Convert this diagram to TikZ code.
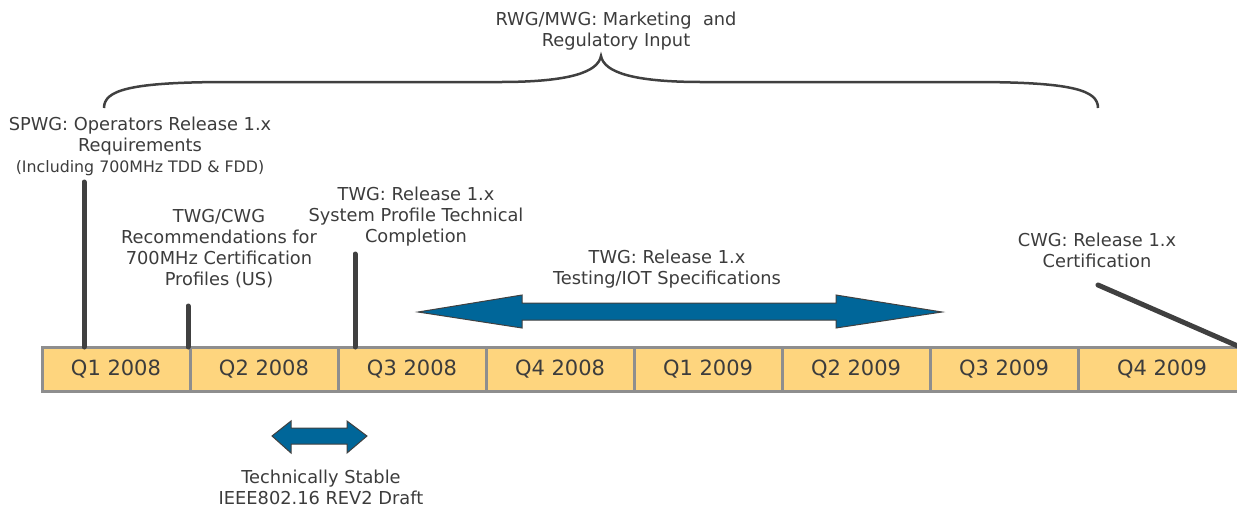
\documentclass[tikz,border=0pt]{standalone}
\usepackage{fontspec}
\setmainfont{DejaVu Sans}
\definecolor{txt}{HTML}{3C3C3C}
\definecolor{cellfill}{HTML}{FED57E}
\definecolor{cellborder}{HTML}{8E8E8E}
\definecolor{arrowblue}{HTML}{006699}
\definecolor{mark}{HTML}{404040}
\tikzset{
  cell/.style={draw=cellborder, line width=3pt, fill=cellfill, minimum width=148pt,
    minimum height=44pt, inner sep=0pt, text=txt, font=\fontsize{21}{24}\selectfont},
  label/.style={align=center, text=txt, inner sep=0pt, font=\fontsize{17.8}{21}\selectfont},
  marker/.style={draw=mark, line width=5pt, line cap=round},
  bigarrow/.style={fill=arrowblue, draw=mark, line width=1pt, line join=miter},
  bracestyle/.style={draw=mark, line width=2.5pt}
}
\begin{document}
\begin{tikzpicture}[x=1pt,y=-1pt]
\useasboundingbox (0,0) rectangle (1237,507);

% timeline cells
\node[cell] (q1) at (116,369) {\raisebox{-2pt}{Q1 2008}};
\node[cell] (q2) at (264,369) {\raisebox{-2pt}{Q2 2008}};
\node[cell] (q3) at (412,369) {\raisebox{-2pt}{Q3 2008}};
\node[cell] (q4) at (560,369) {\raisebox{-2pt}{Q4 2008}};
\node[cell] (q5) at (708,369) {\raisebox{-2pt}{Q1 2009}};
\node[cell] (q6) at (856,369) {\raisebox{-2pt}{Q2 2009}};
\node[cell] (q7) at (1004,369) {\raisebox{-2pt}{Q3 2009}};
\node[cell, minimum width=168pt] (q8) at (1162,369) {\raisebox{-2pt}{Q4 2009}};

% labels
\node[label] (rwg) at (616,31) {RWG/MWG: Marketing \ and\\Regulatory Input};
\node[label] (spwg) at (140,146) {SPWG: Operators Release 1.x\\Requirements\\{\fontsize{15.8}{19}\selectfont (Including 700MHz TDD \& FDD)}};
\node[label] (twgcwg) at (219,248.5) {TWG/CWG\\Recommendations for\\700MHz Certification\\Profiles (US)};
\node[label] (twgsys) at (416,217) {TWG: Release 1.x\\System Profile Technical\\Completion};
\node[label] (twgtest) at (667,269.5) {TWG: Release 1.x\\Testing/IOT Specifications};
\node[label] (cwg) at (1097,250.5) {CWG: Release 1.x\\Certification};
\node[label] (tech) at (321,487) {Technically Stable\\IEEE802.16 REV2 Draft};

% marker lines
\coordinate (m1) at (84,182);
\coordinate (m1b) at (84,347);
\coordinate (m2) at (188,306);
\coordinate (m2b) at (188,347);
\coordinate (m3) at (355,254);
\coordinate (m3b) at (355,347);
\coordinate (m4) at (1098,285);
\coordinate (m4b) at (1240,347);
\draw[marker] (m1) -- (m1b);
\draw[marker] (m2) -- (m2b);
\draw[marker] (m3) -- (m3b);
\draw[marker] (m4) -- (m4b);

% brace
\draw[bracestyle] (104,108) .. controls (104,90) and (130,82) .. (230,82) -- (500,82)
  .. controls (570,82) and (598,72) .. (601,56)
  .. controls (604,72) and (632,82) .. (702,82) -- (972,82)
  .. controls (1072,82) and (1098,90) .. (1098,108);

% big double arrow
\draw[bigarrow] (418,312) -- (522,295) -- (522,303) -- (836,303) -- (836,295) -- (942,312)
  -- (836,328) -- (836,320) -- (522,320) -- (522,328) -- cycle;

% small double arrow
\draw[bigarrow] (272,436) -- (291,421) -- (291,428) -- (347,428) -- (347,421) -- (367,436)
  -- (347,453) -- (347,444) -- (291,444) -- (291,453) -- cycle;
\end{tikzpicture}
\end{document}
